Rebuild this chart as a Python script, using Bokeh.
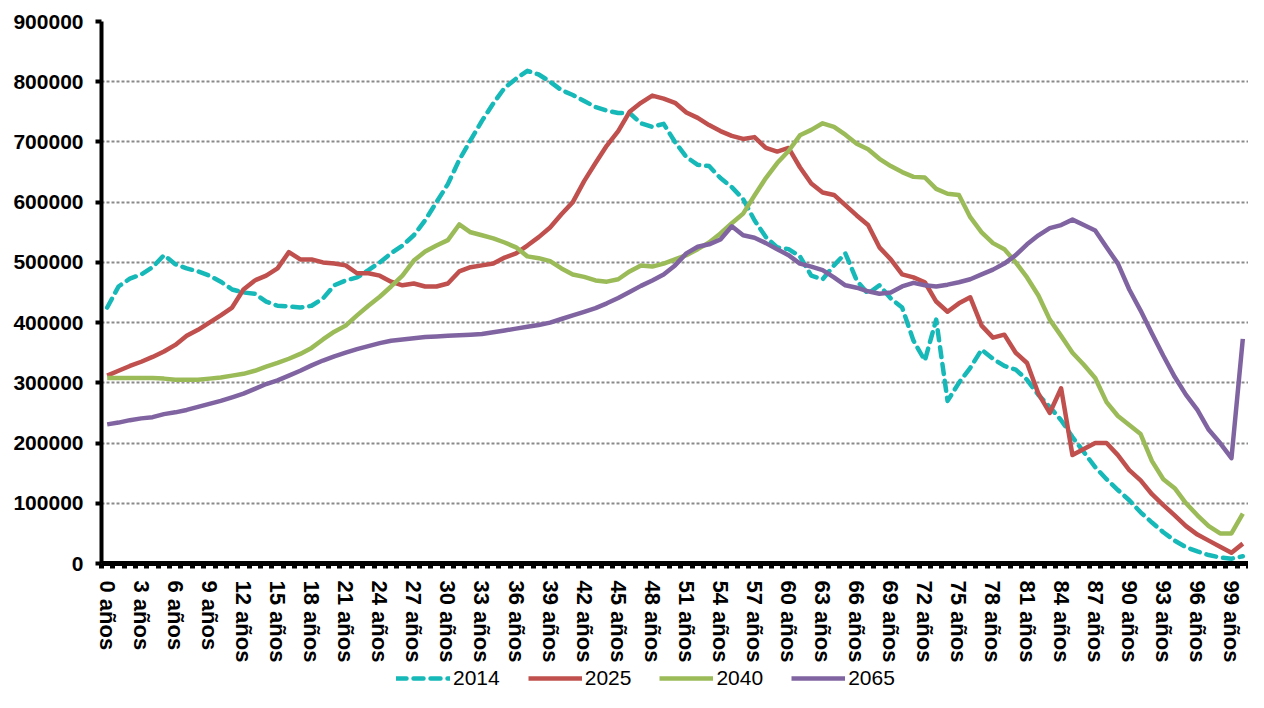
from bokeh.plotting import figure
from bokeh.layouts import column
from bokeh.models import Range1d, FixedTicker, Legend, LegendItem, BasicTickFormatter
from bokeh.embed import file_html
from bokeh.resources import INLINE

# ---- data ----
ages = list(range(101))
age_labels = {a: f"{a} años" for a in ages if a % 3 == 0}
y_ticks = [0, 100000, 200000, 300000, 400000, 500000, 600000, 700000, 800000, 900000]

series_names = ["2014", "2025", "2040", "2065"]

pop_2014 = [425, 460, 473, 480, 492, 512, 497, 490, 485, 478,
            468, 455, 450, 448, 435, 428, 427, 425, 428, 440,
            462, 470, 475, 487, 500, 515, 528, 545, 570, 600,
            630, 670, 703, 735, 764, 790, 805, 818, 812, 800,
            786, 778, 768, 758, 752, 748, 748, 731, 725, 730,
            700, 675, 662, 660, 640, 625, 605, 570, 542, 525,
            522, 510, 478, 472, 495, 515, 470, 448, 462, 440,
            425, 370, 337, 405, 270, 300, 325, 355, 340, 328,
            322, 305, 280, 260, 238, 210, 185, 160, 140, 122,
            105, 85, 68, 52, 38, 27, 20, 14, 10, 8,
            12]

pop_2025 = [312, 320, 328, 335, 343, 352, 363, 378, 388, 400,
            412, 425, 455, 470, 478, 490, 517, 505, 505, 500,
            498, 495, 482, 482, 478, 468, 462, 465, 460, 460,
            465, 485, 492, 495, 498, 508, 515, 528, 542, 558,
            580, 600, 635, 665, 694, 718, 750, 765, 777, 772,
            765, 749, 740, 728, 718, 710, 705, 708, 690, 684,
            690, 658, 631, 616, 612, 595, 578, 562, 525, 505,
            480, 475, 467, 435, 418, 432, 442, 395, 375, 380,
            350, 333, 282, 250, 291, 180, 190, 200, 200, 180,
            155, 138, 115, 97, 80, 62, 48, 38, 28, 18,
            33]

pop_2040 = [308, 308, 308, 308, 308, 307, 305, 305, 305, 307,
            309, 312, 315, 320, 327, 333, 340, 348, 358, 372,
            385, 395, 412, 428, 443, 460, 478, 503, 518, 528,
            537, 563, 550, 545, 540, 533, 525, 510, 507, 502,
            490, 480, 476, 470, 468, 472, 485, 495, 493, 498,
            505, 512, 522, 533, 548, 565, 581, 611, 640, 665,
            685, 711, 720, 731, 725, 712, 697, 688, 672, 660,
            650, 642, 641, 622, 614, 612, 575, 550, 532, 522,
            500, 475, 445, 405, 378, 350, 330, 308, 268, 245,
            230, 215, 170, 140, 125, 100, 80, 62, 50, 50,
            83]

pop_2065 = [231, 234, 238, 241, 243, 248, 251, 255, 260, 265,
            270, 276, 282, 290, 298, 304, 312, 320, 329, 337,
            344, 350, 356, 361, 366, 370, 372, 374, 376, 377,
            378, 379, 380, 381, 384, 387, 390, 393, 396, 400,
            406, 412, 418, 424, 432, 441, 451, 461, 470, 480,
            495, 515, 526, 530, 538, 560, 545, 541, 532, 522,
            512, 498, 493, 487, 475, 462, 458, 452, 448, 450,
            460, 466, 462, 460, 463, 467, 472, 480, 488, 498,
            512, 530, 545, 557, 562, 571, 562, 553, 525, 498,
            455, 420, 382, 345, 310, 280, 255, 222, 200, 175,
            373]

series_values = [pop_2014, pop_2025, pop_2040, pop_2065]
colors = ["#17b8b8", "#c0504d", "#9bbb59", "#8064a2"]
dashes = ["10 7", "solid", "solid", "solid"]

# ---- main chart ----
p = figure(width=1248, height=665, output_backend="svg", toolbar_location=None,
           x_range=Range1d(-0.5, 100.5), y_range=Range1d(0, 900000),
           min_border_left=101, min_border_right=0, min_border_top=21,
           min_border_bottom=102)
p.outline_line_color = None
p.background_fill_color = "white"
p.border_fill_color = "white"

line_style = []
for name, vals, col, dash in zip(series_names, series_values, colors, dashes):
    style = dict(line_color=col, line_width=4.5, line_dash=dash,
                 line_cap="round" if dash != "solid" else "butt", line_join="round")
    p.line(ages, [v * 1000 for v in vals], **style)
    line_style.append(style)

# x axis
p.xaxis.ticker = FixedTicker(ticks=sorted(age_labels.keys()),
                             minor_ticks=[a - 0.5 for a in ages] + [ages[-1] + 0.5])
p.xaxis.major_label_overrides = age_labels
p.xaxis.major_label_orientation = "vertical"
p.xaxis.major_label_text_font = "Liberation Sans"
p.xaxis.major_label_text_font_style = "bold"
p.xaxis.major_label_text_font_size = "22px"
p.xaxis.major_label_text_color = "black"
p.xaxis.major_label_standoff = 12
p.xaxis.axis_line_width = 5
p.xaxis.axis_line_color = "black"
p.xaxis.major_tick_out = 0
p.xaxis.major_tick_in = 0
p.xaxis.minor_tick_out = 5
p.xaxis.minor_tick_in = 0
p.xaxis.minor_tick_line_width = 5
p.xaxis.minor_tick_line_color = "black"

# y axis
p.yaxis.ticker = FixedTicker(ticks=y_ticks)
p.yaxis.formatter = BasicTickFormatter(use_scientific=False)
p.yaxis.major_label_text_font = "Liberation Sans"
p.yaxis.major_label_text_font_style = "bold"
p.yaxis.major_label_text_font_size = "21px"
p.yaxis.major_label_text_color = "black"
p.yaxis.major_label_standoff = 12
p.yaxis.axis_line_width = 4
p.yaxis.axis_line_color = "black"
p.yaxis.major_tick_out = 6
p.yaxis.major_tick_in = 0
p.yaxis.major_tick_line_width = 4
p.yaxis.minor_tick_out = 0
p.yaxis.minor_tick_in = 0

p.xgrid.visible = False
p.ygrid.grid_line_color = "#8a8a8a"
p.ygrid.grid_line_dash = "3 2"
p.ygrid.grid_line_width = 2

# ---- legend strip (same series, outside its visible range, only keys show) ----
lg = figure(width=1248, height=27, output_backend="svg", toolbar_location=None,
            x_axis_type=None, y_axis_type=None, min_border=0,
            x_range=Range1d(0, 1), y_range=Range1d(-2, -1))
lg.outline_line_color = None
lg.xgrid.visible = False
lg.ygrid.visible = False
items = []
for name, vals, style in zip(series_names, series_values, line_style):
    r = lg.line(ages, [v * 1000 for v in vals], **style)
    items.append(LegendItem(label=name, renderers=[r]))

legend = Legend(items=items, orientation="horizontal", location=(295, 2),
                glyph_width=54, glyph_height=24, label_height=24,
                label_standoff=3, spacing=28, padding=0, margin=0,
                border_line_color=None, background_fill_alpha=0,
                label_text_font="Liberation Sans", label_text_font_size="21px",
                label_text_color="black")
lg.add_layout(legend, "center")

layout = column(p, lg, spacing=0)
open("out.html", "w").write(file_html(layout, INLINE))
